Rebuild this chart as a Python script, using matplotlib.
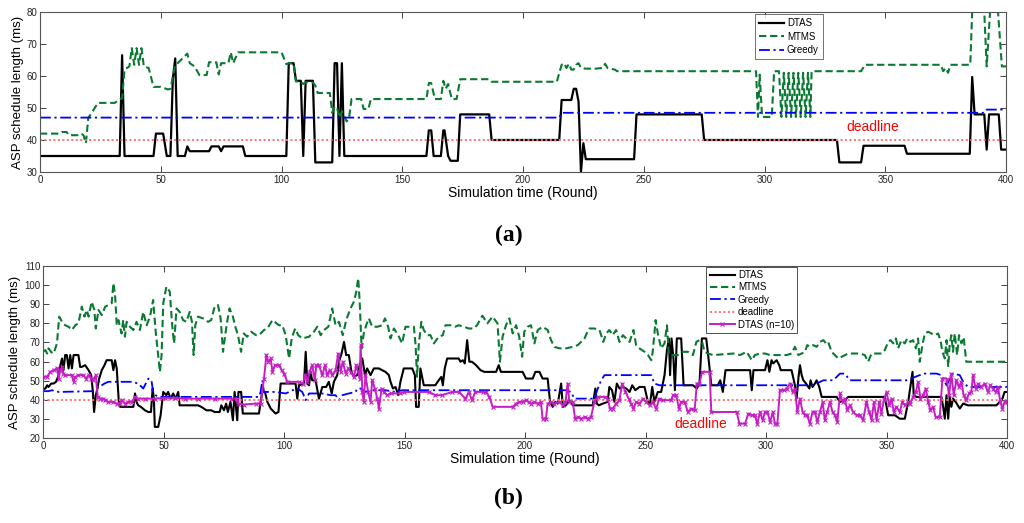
import matplotlib
matplotlib.use("Agg")
import matplotlib.pyplot as plt

plt.rcParams['font.family'] = ['Liberation Sans', 'DejaVu Sans']

# ---------------- panel (a) data: (round, ms) vertices ----------------
a_dtas = [(0, 35), (33, 35), (34, 66.5), (35, 35), (47, 35), (48, 42), (51, 42), (52.5, 35),
          (54, 35), (55, 59), (56, 65.5), (57, 35), (60, 35), (61, 38), (62, 36.5), (70, 36.5),
          (71, 38), (74, 38), (75, 36.5), (76, 38), (84, 38), (85, 35), (102, 35), (103, 64),
          (105, 64), (106, 58.5), (108, 58.5), (109, 35), (110, 58.5), (113, 58.5), (114, 33),
          (121, 33), (122, 64), (123, 64), (124, 35), (125, 64), (126, 35), (160, 35), (161, 43),
          (162, 43), (163, 35), (166, 35), (167, 43), (167.5, 43), (169, 35), (170, 33.5),
          (173, 33.5), (174, 48), (186, 48), (187, 40), (215, 40), (216, 52.5), (220, 52.5),
          (221, 56), (222, 56), (223, 52), (224, 30), (225, 39), (226, 34), (246, 34), (247, 48),
          (274, 48), (275, 40), (330, 40), (331, 33), (340, 33), (341, 38.2), (358, 38.2),
          (359, 35.7), (385, 35.7), (386, 59.7), (387, 48), (391, 48), (392, 37), (393, 48),
          (397, 48), (398, 37), (400, 37)]

a_mtms = [(0, 42), (8, 42), (9, 42.5), (11, 42.5), (12, 41.5), (16, 41.5), (17, 42), (18, 41.5),
          (19, 39), (20, 47), (21, 48), (24, 51.6), (31, 51.6), (33, 52.8), (34, 53), (35, 62),
          (37, 63), (38, 68.7), (39, 63.5), (40, 68.7), (41, 63.5), (42, 68.7), (43, 63),
          (45, 62.5), (47, 56.6), (50, 56.6), (53, 55.8), (54, 56), (56, 63.5), (57, 64),
          (61, 67), (62, 64), (64, 63), (66, 60.3), (69, 60.3), (70, 64.3), (73, 64.3),
          (74, 60.5), (75, 64), (78, 64), (79, 67.4), (80, 64), (82, 67.4), (100, 67.4),
          (102, 63.7), (103, 64), (105, 64), (106, 58.3), (108, 58.3), (109, 57.5), (110, 58),
          (113, 58), (114, 57), (115, 54.7), (120, 54.7), (121, 48.5), (122, 50.5), (123, 50),
          (124, 47), (125, 49), (127, 45.8), (128, 47), (129, 52.8), (133, 52.8), (134, 49.7),
          (136, 49.7), (137, 52.8), (160, 52.8), (161, 57.8), (162, 57.8), (163.5, 52.8),
          (166, 52.8), (167, 58.5), (168, 56), (169, 57.5), (170.5, 52.8), (172.5, 52.8),
          (174, 59), (186, 59), (187, 58.2), (214, 58.2), (216, 63.5), (217, 64), (218, 62.5),
          (219, 63.8), (220, 62), (221, 62), (222, 63.5), (223, 64), (224, 62.5), (226, 62.3),
          (230, 62.3), (233, 62.5), (234, 63.8), (235, 62.5), (238, 62), (239, 61.5),
          (296.5, 61.5), (297.3, 47.2), (298, 60.4), (299, 47.2), (303, 47.2), (304, 61.5),
          (306, 61.5), (307, 47.2), (308, 61), (309, 47.2), (310, 61), (311, 47.2), (312, 61),
          (313, 47.2), (314, 61), (315, 47.2), (316, 61), (317, 47.2), (318, 61), (319, 47.2),
          (319.5, 61.5), (340, 61.5), (341.6, 63.5), (373, 63.5), (374, 61.5), (375, 62.5),
          (376, 61), (377, 63.5), (385.2, 63.5), (386, 80), (391, 80), (392, 63), (393.4, 80),
          (396.7, 80), (398.3, 63), (400, 63)]

a_greedy = [(0, 47), (215, 47), (216, 48.5), (391, 48.5), (392, 49.5), (400, 49.5)]

deadline = 40

# ---------------- panel (b) data ----------------
b_dtas = [(0, 45.5), (1, 45.9), (1.7, 47.6), (2.3, 46.7), (3.4, 48.5), (4.4, 48.5), (5.4, 49.4),
          (6.5, 52.9), (7.2, 58.1), (7.9, 61.6), (8.5, 55.5), (9.2, 63.4), (9.9, 63.4),
          (10.6, 56.4), (11.3, 63.4), (12, 56.4), (12.7, 63.4), (14.7, 63.4), (15.4, 57.2),
          (16.1, 57.2), (17.5, 58.1), (18.9, 55.5), (20, 52.9), (20.7, 44.1), (21.2, 33.6),
          (21.9, 42.4), (22.6, 45.9), (23.3, 51.1), (24.4, 55.5), (25.5, 58.1), (26.4, 60.7),
          (28.5, 60.7), (29.2, 55.5), (29.9, 60.7), (30.6, 56.4), (31.5, 38), (32, 36.3),
          (37.5, 36.3), (38.2, 43.3), (38.8, 38.9), (39.5, 37.1), (40.6, 36.3), (42.3, 34.5),
          (43.7, 33.6), (44.8, 33.6), (45.5, 45.9), (46, 40.6), (46.4, 25.8), (47.8, 25.8),
          (48.8, 31.9), (49.9, 44.1), (51.2, 42.4), (51.9, 44.1), (53, 40.6), (54, 43.3),
          (55, 40.6), (56.1, 44.1), (56.7, 37.1), (64.3, 37.1), (65.7, 36.3), (67.8, 34.5),
          (69.8, 34.5), (71.2, 33.6), (73.3, 33.6), (74, 37.1), (75.1, 34.5), (76, 38),
          (76.7, 33.6), (77.8, 38.9), (78.8, 29.3), (79.5, 44.1), (80.6, 29.3), (81.1, 44.1),
          (82.2, 44.1), (82.9, 32.8), (89.6, 32.8), (90.3, 38.9), (91, 44.1), (92.1, 44.1),
          (93.1, 38.9), (94.5, 35.4), (96.5, 32.8), (97.7, 33.6), (98.6, 48.5), (104.8, 48.5),
          (105.5, 40.6), (106.2, 47.6), (108.3, 48.5), (109, 65.1), (109.7, 48.5), (110.4, 47.6),
          (111, 54.6), (111.7, 50.2), (113.1, 50.2), (114.5, 40.6), (115.9, 46.7), (117.5, 46.7),
          (118.6, 49.4), (119.8, 43.3), (120.7, 49.4), (122.1, 52.9), (122.8, 59.9), (123.9, 64.2),
          (124.9, 70.3), (125.8, 63.4), (126.9, 63.4), (128, 54.6), (129, 52), (130.4, 52.9),
          (131.4, 58.1), (132.5, 61.6), (133.6, 52.9), (134.5, 56.4), (135.9, 52.9), (137.3, 56.4),
          (139.4, 56.4), (140.7, 55.5), (142.1, 54.6), (143.5, 52.9), (144.2, 49.4), (145.2, 45.9),
          (146.3, 46.7), (147.4, 42.4), (148.3, 49.4), (149.7, 56.4), (153.2, 56.4), (154.3, 52.9),
          (154.8, 36.3), (155.9, 36.3), (156.6, 56.4), (158, 47.6), (162.8, 47.6), (164.2, 50.2),
          (165.3, 52), (165.9, 47.6), (166.7, 56.4), (167.7, 61.6), (172.5, 61.6), (173.2, 59.9),
          (174.2, 60.7), (175, 59), (176, 71.2), (176.9, 59.9), (178, 59.9), (179.7, 58.1),
          (181.5, 55.5), (183.1, 54.6), (188, 54.6), (189.1, 58.1), (190, 54.6), (199, 54.6),
          (200.4, 51.1), (203.2, 51.1), (204.3, 54.6), (206, 54.6), (207.3, 51.1), (209.4, 51.1),
          (210.4, 38.9), (211.5, 36.3), (212.6, 38.9), (213.6, 38), (215, 48.5), (215.7, 36.3),
          (217, 37.1), (218.4, 39.8), (219.8, 37.1), (228.1, 37.1), (229.2, 45.9), (229.8, 38),
          (230.6, 37.1), (232.3, 38), (234.3, 38.9), (235, 46.7), (236.1, 45), (237.1, 38.9),
          (238.1, 48.5), (239.2, 45.9), (240.6, 46.7), (242, 45.9), (243.4, 44.1), (244.5, 47.6),
          (245.8, 45), (247.5, 46.7), (249.6, 46.7), (251, 38.9), (251.9, 38), (252.8, 46.7),
          (253.7, 38.9), (255.1, 44.1), (256.5, 44.1), (257.9, 52.9), (258.9, 66), (259.7, 72.1),
          (260.2, 52.9), (260.8, 72.1), (261.6, 61.6), (262.2, 45), (263, 72.1), (264.8, 72.1),
          (265.8, 47.6), (269.7, 47.6), (271.3, 45.9), (272.4, 48.5), (273.4, 72.1), (275.2, 72.1),
          (276.3, 59.9), (277.3, 47.6), (280, 47.6), (281, 50.2), (282.1, 44.1), (283.2, 55.5),
          (293.4, 55.5), (294.1, 45), (294.8, 55.5), (299.6, 55.5), (300.6, 60.7), (301.4, 54.6),
          (302.3, 60.7), (303, 59), (304.4, 60.7), (305.5, 58.1), (306.1, 55.5), (310.6, 55.5),
          (312, 47.6), (312.7, 40.6), (313.5, 52), (314.1, 58.1), (314.8, 52.9), (315.5, 50.2),
          (316.6, 48.5), (317.1, 47.6), (318, 45.9), (318.5, 50.2), (319.3, 46.7), (320.3, 48.5),
          (321, 50.2), (322.1, 46.7), (323.1, 41.5), (329.3, 41.5), (330.7, 38.9), (332.7, 39.8),
          (334.1, 41.5), (349.3, 41.5), (350.7, 31.9), (353.5, 31.9), (355.5, 30.1), (357.6, 30.1),
          (359, 38.9), (359.9, 46.7), (360.8, 54.6), (361.3, 42.4), (362.4, 41.5), (372.8, 41.5),
          (373.5, 36.3), (374.2, 30.1), (374.9, 42.4), (375.6, 30.1), (376.2, 41.5), (376.9, 36.3),
          (377.6, 40.6), (378.7, 38.9), (380.4, 35.4), (381.8, 38), (383.8, 37.1), (395.6, 37.1),
          (397, 38.9), (398.1, 40.6), (399, 44.1), (400, 44.1)]

b_mtms = [(0, 65.1), (1, 66), (1.7, 64.2), (2.3, 66.9), (3.4, 65), (4.4, 64.2), (5.8, 69.5),
          (6.7, 83.5), (7.9, 80.8), (9.2, 79), (10.6, 78.2), (12, 76.5), (13.4, 79), (14.7, 80),
          (16.1, 88.7), (17.2, 83.5), (18.2, 87), (18.9, 83.5), (20.2, 91.3), (21.3, 87),
          (21.9, 77.3), (23, 87), (24.4, 84.3), (25.8, 88.7), (27.1, 89.6), (28.5, 90.5),
          (29.2, 101), (29.9, 94.8), (30.6, 79), (31.3, 81.7), (32.6, 74.7), (33.3, 81.7),
          (34, 73), (34.7, 80.8), (36.1, 78.2), (37.5, 76.5), (38.8, 80.8), (40.2, 76.5),
          (41.6, 86), (43, 79), (44.4, 83.5), (45.7, 92.2), (46.7, 76.5), (47.5, 66.9),
          (48.5, 54.6), (49.2, 63.4), (49.9, 90.5), (51.2, 99.2), (52.6, 96.6), (53.6, 79),
          (54.4, 69.5), (55.4, 87.8), (56.7, 86), (58.1, 81.7), (59.5, 80.8), (60.9, 86),
          (61.8, 80.8), (62.5, 63.4), (63.2, 79), (64.3, 83.5), (66.4, 82.6), (68.5, 80.8),
          (69.8, 81.7), (71.2, 88.7), (72.6, 89.6), (73.7, 82.6), (74.7, 65.1), (75.6, 73.8),
          (76.4, 80.8), (77.4, 87.8), (78.8, 83.5), (79.8, 78.2), (80.9, 73.8), (82.2, 65.1),
          (83.3, 74.7), (84.7, 73), (86.4, 75.6), (88.4, 73.8), (89.6, 73.8), (91.7, 76.5),
          (93.1, 77.3), (95.2, 81.7), (97.9, 79), (99.3, 79), (100.7, 73.8), (102.1, 61.6),
          (103.2, 72.1), (104.6, 77.3), (105.9, 73.8), (107.6, 72.1), (110.4, 73), (112.4, 75.6),
          (113.8, 78.2), (115.2, 73.8), (116.6, 76.5), (118.4, 78.2), (120, 87.8), (121.4, 79),
          (122.8, 80.8), (124.4, 73.8), (125.8, 81.7), (127.6, 87.8), (129, 91.3), (130, 96.6),
          (130.8, 103.6), (131.4, 91.3), (132.2, 66.9), (133.1, 74.7), (134.1, 79), (135.2, 82.6),
          (136.6, 78.2), (138.7, 78.2), (140.7, 79), (141.9, 82.6), (143.2, 78.2), (144.2, 72.1),
          (145.6, 77.3), (147.4, 73.8), (149, 69.5), (150.4, 78.2), (153.9, 78.2), (154.6, 68.6),
          (155.2, 52), (155.9, 68.6), (157, 80.8), (158, 76.5), (159.4, 73.8), (160.8, 73.8),
          (162.2, 69.5), (164.2, 73), (165.9, 73.8), (167, 79), (169.1, 79), (170.9, 78.2),
          (172.5, 79), (174.6, 78.2), (176.7, 77.3), (178.7, 77.3), (180.1, 79), (182.3, 84),
          (184.4, 80), (186.5, 83.5), (188.6, 80), (189.6, 59.9), (190.7, 73), (192.1, 79),
          (193.5, 82.6), (194.9, 74.7), (196.3, 79), (197.6, 73), (198.8, 62.5), (199.7, 75.6),
          (201.1, 78.2), (202.5, 79), (203.9, 69.5), (205.3, 76.5), (207.3, 78.2), (209.4, 76.5),
          (210.8, 71.2), (212.2, 67.7), (214.3, 66.9), (217, 66.9), (219.8, 67.7), (221.9, 68.6),
          (223.3, 70.3), (224.7, 72.1), (225.6, 74.7), (226.7, 77.3), (228.8, 77.3), (230.9, 76.5),
          (232.5, 70.3), (233.7, 74.7), (235, 76.5), (236.4, 73.8), (237.8, 76.5), (239.2, 70.3),
          (240.6, 73.8), (242, 72.1), (243.4, 70.3), (245, 76.5), (246.1, 68.6), (247.5, 66.9),
          (249.6, 65.1), (251, 63.4), (252.4, 60.7), (253, 65.1), (254.2, 81.7), (255.1, 74.7),
          (256.5, 66.9), (257.9, 69.5), (258.9, 79), (259.7, 63.4), (263.4, 63.4), (265.5, 65.1),
          (267.6, 65.1), (269.7, 63.4), (271.1, 70.3), (272.4, 71.2), (273.5, 70.3), (274.5, 65.1),
          (275.9, 64.2), (278, 63.4), (286.5, 64.2), (289.2, 63.4), (292, 65.1), (294.1, 60.7),
          (295.4, 63.4), (297.5, 64.2), (299.6, 64.2), (301.7, 63.4), (308.6, 63.4), (310.6, 64.2),
          (312, 67.7), (313.4, 63.4), (314.8, 64.2), (316.2, 65.1), (317.1, 68.6), (318.2, 67.7),
          (319.6, 68.6), (321, 67.7), (322.4, 70.3), (323.8, 71.2), (324.9, 69.5), (325.8, 70.3),
          (327.2, 65.1), (328.6, 63.4), (330, 61.6), (331.4, 62.5), (332.7, 63.4), (334.1, 64.2),
          (339, 64.2), (341, 63.4), (342.4, 59.9), (343.8, 64.2), (348, 64.2), (349.3, 66),
          (350.7, 70.3), (351.7, 71.2), (352.8, 69.5), (353.9, 72.1), (354.8, 66.9), (356.2, 71.2),
          (357.6, 69.5), (358.6, 72.1), (359.9, 70.3), (361, 71.2), (362.2, 66.9), (363.1, 72.1),
          (363.8, 59.9), (364.9, 68.6), (365.9, 74.7), (367.3, 75.6), (368.6, 74.7), (370, 73.8),
          (371.4, 74.7), (372.4, 71.2), (373.2, 65.1), (374.2, 61.6), (374.9, 71.2), (375.6, 57.2),
          (376.2, 68.6), (376.9, 73.8), (377.6, 65.1), (378.3, 74.7), (379.3, 63.4), (380.1, 73.8),
          (381.1, 69.5), (382, 72.8), (383.1, 59.9), (400, 59.9)]

b_greedy = [(0, 44.5), (2.3, 44.5), (3.7, 45), (6.5, 44.1), (20.5, 44.5), (21.6, 45), (23, 46.7),
            (24.4, 47.6), (25.5, 48.5), (27.1, 49.4), (36.8, 49.4), (39.5, 48.5), (41.6, 45.9),
            (43, 49.4), (43.7, 51.1), (45, 50.2), (45.7, 44.1), (46.7, 42.4), (47.8, 41.5),
            (89.6, 41.5), (90.3, 44.1), (91, 50.2), (91.7, 44.1), (96.5, 44.1), (100.7, 43.3),
            (102.1, 44.1), (103.5, 45), (105.5, 45.9), (107.6, 44.1), (109, 39.8), (110.4, 43.3),
            (115.9, 43.3), (119.3, 42.4), (121.4, 42.4), (122.8, 39.8), (124.2, 42.4), (126.9, 43.3),
            (129.7, 44.1), (130.4, 45.9), (131.8, 45.9), (133.8, 44.1), (135.9, 45), (142.1, 45),
            (146.3, 44.1), (149, 45), (217, 45), (219.1, 44.1), (220.5, 40.6), (228.8, 40.6),
            (230.2, 45.9), (231.6, 50.2), (233, 52.9), (252.4, 52.9), (253.7, 48.5), (255.8, 47.6),
            (319.6, 47.6), (323.8, 50.2), (327.9, 50.2), (330.7, 53.7), (332.7, 53.7), (334.8, 50.2),
            (358.3, 50.2), (363.8, 52.9), (365.9, 53.7), (370.7, 53.7), (372.8, 52.9), (374.9, 47.6),
            (377.6, 53.7), (380.4, 52.9), (381.8, 49.4), (383.8, 46.7), (400, 46.7)]

b_dtas_n10 = [(0, 52), (1.7, 52), (3, 54.6), (4.4, 55.5), (5.8, 56.4), (6.5, 51.1), (7.2, 55.5),
              (7.9, 57.2), (8.5, 53.7), (9.2, 52.9), (12, 52.9), (12.7, 49.4), (13.4, 52),
              (14.7, 52.9), (16.8, 52.9), (17.8, 51.1), (18.9, 52.9), (20, 51.1), (20.9, 50.2),
              (21.9, 52.9), (22.7, 41.5), (23.7, 40.6), (25.1, 40.6), (25.8, 39.8), (27.1, 38.9),
              (29.2, 38.9), (30.6, 38), (32, 38), (32.6, 39.8), (34, 38), (35.4, 38.9), (36.8, 38.9),
              (38.2, 41.5), (39.5, 40.6), (42.3, 40.6), (46.4, 40.6), (50.6, 41), (54.7, 41),
              (58.8, 40.6), (64.3, 40.6), (71.2, 40.6), (78.1, 40.6), (80.6, 40.6), (81.1, 38),
              (83.6, 37.5), (88.3, 38), (90.3, 38), (91.7, 51.1), (92.7, 63.4), (93.5, 59.9),
              (94.5, 61.6), (95.2, 54.6), (96.3, 58.1), (97.9, 58.1), (99, 55.5), (100, 53.7),
              (101.4, 49.4), (106.2, 49.4), (107.9, 48.5), (108.7, 52.9), (109.7, 49.4),
              (110.6, 54.6), (111.7, 58.1), (112.8, 50.2), (113.4, 58.1), (114.5, 58.1),
              (115.9, 52.9), (117, 58.1), (117.9, 52.9), (118.9, 55.5), (120, 52.9), (121.4, 55.5),
              (122.5, 64.2), (123.5, 54.6), (124.4, 59.9), (125.6, 53.7), (126.7, 56.4),
              (127.6, 54.6), (129, 52), (130, 58.1), (131.4, 51.1), (131.8, 68.6), (132.5, 44.1),
              (133.1, 38.9), (133.8, 52.9), (134.9, 44.1), (135.9, 38.9), (136.6, 50.2),
              (137.7, 45.9), (138.7, 40.6), (139.4, 35.4), (140.5, 45.9), (141.4, 44.1),
              (142.8, 42.4), (144.2, 43.3), (148.3, 43.3), (149.7, 44.1), (160.1, 44.1),
              (162.8, 42.4), (165.6, 42.4), (169.8, 44.1), (172.5, 44.1), (175.3, 40.6),
              (176.7, 44.1), (178, 39.8), (179.4, 44.1), (182.4, 44.1), (183.8, 44.1),
              (185.2, 41.5), (186.6, 36.3), (194.9, 36.3), (196.3, 38), (197.6, 38.9), (199, 38.9),
              (200.4, 39.8), (201.5, 38.9), (202.5, 38), (203.9, 38.9), (205.3, 38), (206.6, 38.9),
              (207.3, 30.1), (208.7, 30.1), (209.4, 38), (210.8, 38.9), (212.2, 38), (214.3, 38.9),
              (215.7, 37.1), (216.8, 38.9), (217.7, 48.5), (218.4, 38.9), (219.8, 38.9),
              (220.8, 30.1), (221.9, 31), (223.3, 30.1), (224.7, 31), (226, 30.1), (227.4, 31),
              (228.8, 38.9), (230.2, 41.5), (233, 41.5), (234.3, 40.6), (235.3, 35.4), (236.4, 35.4),
              (237.8, 38), (239.2, 39.8), (240.3, 48.5), (241.7, 44.1), (243, 40.6), (244, 38),
              (245, 35.4), (246.1, 38.9), (247.5, 38), (248.9, 40.6), (250.3, 38.9), (251.7, 37.1),
              (253, 38.9), (254.4, 35.4), (255.8, 40.6), (257.2, 39.8), (260.7, 39.8), (261.4, 42.4),
              (262.7, 42.4), (263.9, 35.4), (264.8, 38.9), (266.2, 38.9), (267.6, 33.6), (269, 35.4),
              (270.4, 34.5), (271.3, 48.5), (272.4, 48.5), (273.5, 54.6), (276.6, 54.6),
              (277.3, 33.6), (287.8, 33.6), (289, 27.5), (291.3, 27.5), (292.7, 32.8), (294.1, 31.9),
              (295.4, 31.9), (296.4, 27.5), (297.5, 33.6), (298.6, 29.3), (299.6, 33.6),
              (300.6, 33.6), (301.7, 28.4), (302.8, 33.6), (303.7, 27.5), (304.7, 27.5), (305.8, 45),
              (307.5, 45), (308.6, 45.9), (310, 48.5), (311, 44.1), (312, 45.9), (313, 33.6),
              (314.1, 40.6), (315.2, 33.6), (316.2, 31.9), (317.1, 31.9), (318.2, 27.5),
              (319.3, 33.6), (320.3, 33.6), (321.3, 28.4), (322.4, 33.6), (323.5, 38.9),
              (324.4, 29.3), (325.4, 33.6), (326.5, 38.9), (327.6, 33.6), (328.6, 31.9),
              (329.6, 28.4), (330.7, 43.3), (331.8, 38.9), (332.7, 40.6), (333.7, 34.5),
              (334.8, 37.1), (336.2, 33.6), (337.6, 31.9), (339, 31.9), (340.3, 29.3), (341.7, 38.9),
              (342.8, 33.6), (343.8, 29.3), (344.8, 38.9), (345.9, 29.3), (347, 38.9), (347.9, 32.8),
              (348.9, 39.8), (350, 44.1), (351.1, 37.1), (352.1, 40.6), (353, 33.6), (354.1, 36.3),
              (355.5, 33.6), (356.6, 38.9), (357.7, 37.1), (359, 38.9), (359.9, 38), (361, 41.5),
              (362.2, 44.1), (363.1, 49.4), (364.1, 40.6), (365.2, 42.4), (366.3, 45.9),
              (367.3, 38.9), (368.2, 34.5), (369.3, 36.3), (370.4, 31), (372.1, 31), (373.2, 51.1),
              (374.9, 51.1), (376, 42.4), (376.9, 53.7), (377.9, 42.4), (379, 50.2), (380.1, 46.7),
              (381.1, 49.4), (382, 42.4), (383.1, 39.8), (384.3, 43.3), (385.2, 44.1), (385.9, 52.9),
              (387, 45.9), (388, 48.5), (389.4, 46.7), (390.7, 48.5), (392.1, 44.1), (393.1, 47.6),
              (394.2, 45.9), (395.3, 44.1), (396.3, 46.7), (397.2, 38.9), (398.1, 35.4), (399, 38.9),
              (400, 38.9)]

GREEN = '#0a7a32'
MAGENTA = '#c41ec4'
DEADLINE_C = '#ff7070'


def xy(pairs):
    return [p[0] for p in pairs], [p[1] for p in pairs]


def style_axes(ax, ylim, yticks):
    ax.set_xlim(0, 400)
    ax.set_ylim(*ylim)
    ax.set_xticks(range(0, 401, 50))
    ax.set_yticks(yticks)
    ax.tick_params(direction='in', top=True, right=True, length=4, width=0.6,
                   labelsize=7, pad=2, colors='#222222')
    for s in ax.spines.values():
        s.set_color('#555555')
        s.set_linewidth(0.8)
    ax.set_xlabel('Simulation time (Round)', fontsize=10, labelpad=1)
    ax.set_ylabel('ASP schedule length (ms)', fontsize=9.5, labelpad=2)


fig = plt.figure(figsize=(10.24, 5.23), dpi=100)

# ---- (a) ----
ax1 = fig.add_axes([40 / 1024, 1 - 172 / 523, 966 / 1024, 160 / 523])
ax1.plot(*xy(a_dtas), color='black', lw=1.6, label='DTAS')
ax1.plot(*xy(a_mtms), color=GREEN, lw=1.5, ls=(0, (3.5, 1.8)), label='MTMS')
ax1.plot(*xy(a_greedy), color='#0000ff', lw=1.3, ls=(0, (6, 2, 1.2, 2)), label='Greedy')
ax1.axhline(deadline, color=DEADLINE_C, lw=1.4, ls=(0, (1, 1.3)))
ax1.text(345, 44, 'deadline', color='red', fontsize=10, ha='center', va='center')
style_axes(ax1, (30, 80), range(30, 81, 10))
leg1 = ax1.legend(loc='upper left', bbox_to_anchor=(0.740, 0.985), fontsize=7,
                  frameon=True, fancybox=False, edgecolor='#333333', handlelength=2.6,
                  borderpad=0.4, labelspacing=0.35, handletextpad=0.3, borderaxespad=0)
leg1.get_frame().set_linewidth(0.6)

# ---- (b) ----
ax2 = fig.add_axes([43 / 1024, 1 - 438 / 523, 964 / 1024, 172 / 523])
ax2.plot(*xy(b_dtas), color='black', lw=1.5, label='DTAS')
ax2.plot(*xy(b_mtms), color=GREEN, lw=1.5, ls=(0, (3.5, 1.8)), label='MTMS')
ax2.plot(*xy(b_greedy), color='#0000ff', lw=1.3, ls=(0, (6, 2, 1.2, 2)), label='Greedy')
ax2.axhline(deadline, color=DEADLINE_C, lw=1.4, ls=(0, (1, 1.3)), label='deadline')
ax2.plot(*xy(b_dtas_n10), color=MAGENTA, lw=1.4, marker='x', ms=2.5, mew=0.8,
         label='DTAS (n=10)')
ax2.text(273, 27.5, 'deadline', color='red', fontsize=10, ha='center', va='center')
style_axes(ax2, (20, 110), range(20, 111, 10))
leg2 = ax2.legend(loc='upper left', bbox_to_anchor=(0.688, 0.997), fontsize=7,
                  frameon=True, fancybox=False, edgecolor='#333333', handlelength=2.6,
                  borderpad=0.35, labelspacing=0.25, handletextpad=0.3, borderaxespad=0,
                  framealpha=1)
leg2.get_frame().set_linewidth(0.6)

fig.text(0.497, 1 - 235 / 523, '(a)', fontsize=17, fontweight='bold',
         family='Liberation Serif', ha='center', va='center')
fig.text(0.497, 1 - 498 / 523, '(b)', fontsize=17, fontweight='bold',
         family='Liberation Serif', ha='center', va='center')

fig.savefig('out.png', dpi=100)
